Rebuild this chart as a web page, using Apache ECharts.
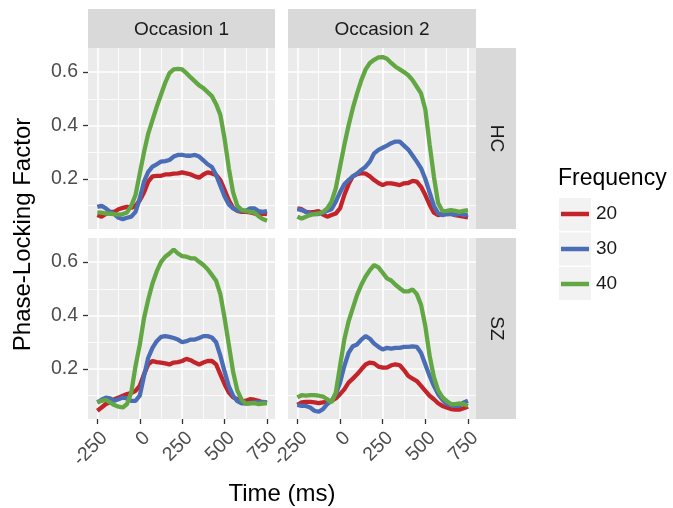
<!DOCTYPE html>
<html><head><meta charset="utf-8">
<script src="https://cdn.jsdelivr.net/npm/echarts@6/dist/echarts.min.js"></script>
<style>html,body{margin:0;padding:0;background:#fff}#c{width:673px;height:508px}</style>
</head><body><div id="c"></div>
<script>
// ---- data ----
const time = [-250,-225,-200,-175,-150,-125,-100,-75,-50,-25,0,25,50,75,100,125,150,175,200,225,250,275,300,325,350,375,400,425,450,475,500,525,550,575,600,625,650,675,700,725,750];
const occasions = ['Occasion 1','Occasion 2'];
const groups = ['HC','SZ'];
const frequencies = ['20','30','40'];
const xTicks = [-250,0,250,500,750];
const xMinorTicks = [-125,125,375,625];
const yTicks = [0.2,0.4,0.6];
const yMinorTicks = [0.1,0.3,0.5];

const HC1_20 = [0.065,0.059,0.069,0.077,0.077,0.087,0.092,0.096,0.092,0.1,0.12,0.15,0.19,0.21,0.212,0.212,0.217,0.217,0.22,0.221,0.225,0.221,0.217,0.21,0.205,0.217,0.225,0.221,0.215,0.196,0.159,0.12,0.092,0.081,0.077,0.077,0.075,0.071,0.069,0.071,0.069];
const HC1_30 = [0.096,0.1,0.09,0.077,0.069,0.055,0.05,0.055,0.059,0.077,0.127,0.19,0.227,0.246,0.255,0.265,0.267,0.271,0.284,0.29,0.29,0.287,0.287,0.29,0.284,0.27,0.255,0.245,0.215,0.175,0.135,0.105,0.09,0.082,0.081,0.081,0.09,0.09,0.08,0.077,0.08];
const HC1_40 = [0.075,0.074,0.071,0.07,0.069,0.067,0.069,0.075,0.10,0.14,0.22,0.30,0.37,0.42,0.47,0.515,0.56,0.596,0.61,0.612,0.61,0.596,0.58,0.565,0.55,0.54,0.525,0.51,0.48,0.44,0.35,0.24,0.15,0.1,0.085,0.081,0.077,0.074,0.061,0.05,0.044];

const HC2_20 = [0.09,0.087,0.077,0.075,0.077,0.08,0.067,0.059,0.065,0.071,0.09,0.14,0.18,0.21,0.218,0.222,0.22,0.21,0.196,0.185,0.177,0.184,0.184,0.181,0.177,0.184,0.185,0.193,0.19,0.171,0.14,0.104,0.074,0.065,0.069,0.069,0.069,0.065,0.062,0.059,0.056];
const HC2_30 = [0.087,0.084,0.077,0.071,0.069,0.069,0.075,0.081,0.087,0.115,0.15,0.18,0.196,0.21,0.22,0.234,0.246,0.265,0.296,0.309,0.317,0.325,0.334,0.34,0.34,0.325,0.31,0.288,0.265,0.24,0.2,0.15,0.1,0.072,0.065,0.069,0.071,0.065,0.071,0.065,0.067];
const HC2_40 = [0.059,0.052,0.059,0.065,0.069,0.071,0.077,0.09,0.115,0.165,0.246,0.327,0.40,0.465,0.52,0.57,0.61,0.634,0.646,0.655,0.656,0.65,0.634,0.62,0.61,0.60,0.588,0.57,0.545,0.52,0.46,0.33,0.21,0.11,0.08,0.081,0.084,0.081,0.077,0.081,0.084];

const SZ1_20 = [0.044,0.056,0.069,0.075,0.087,0.093,0.1,0.106,0.11,0.118,0.137,0.18,0.217,0.23,0.226,0.224,0.221,0.217,0.224,0.226,0.23,0.238,0.233,0.224,0.217,0.224,0.23,0.23,0.217,0.18,0.143,0.112,0.094,0.087,0.081,0.081,0.087,0.085,0.081,0.075,0.072];
const SZ1_30 = [0.075,0.085,0.093,0.09,0.081,0.087,0.093,0.09,0.081,0.081,0.1,0.174,0.242,0.279,0.304,0.32,0.323,0.32,0.316,0.31,0.30,0.304,0.31,0.31,0.316,0.323,0.323,0.318,0.30,0.25,0.19,0.135,0.1,0.08,0.072,0.072,0.072,0.075,0.075,0.077,0.075];
const SZ1_40 = [0.075,0.081,0.085,0.075,0.065,0.059,0.056,0.069,0.112,0.211,0.29,0.39,0.46,0.52,0.565,0.6,0.62,0.632,0.647,0.632,0.622,0.62,0.614,0.614,0.601,0.589,0.573,0.552,0.53,0.48,0.39,0.29,0.19,0.12,0.085,0.07,0.072,0.072,0.069,0.071,0.072];

const SZ2_20 = [0.066,0.075,0.077,0.077,0.075,0.072,0.075,0.077,0.081,0.09,0.106,0.124,0.149,0.164,0.18,0.199,0.217,0.224,0.221,0.209,0.205,0.205,0.214,0.217,0.214,0.196,0.174,0.164,0.155,0.137,0.118,0.1,0.087,0.072,0.062,0.056,0.05,0.048,0.048,0.053,0.06];
const SZ2_30 = [0.066,0.062,0.062,0.056,0.044,0.04,0.05,0.069,0.081,0.106,0.149,0.211,0.26,0.285,0.292,0.31,0.323,0.313,0.295,0.283,0.273,0.279,0.276,0.279,0.279,0.283,0.283,0.285,0.283,0.26,0.217,0.174,0.137,0.106,0.085,0.069,0.065,0.062,0.062,0.075,0.081];
const SZ2_40 = [0.094,0.102,0.1,0.102,0.102,0.1,0.097,0.087,0.075,0.112,0.211,0.31,0.378,0.428,0.477,0.515,0.546,0.57,0.589,0.58,0.56,0.539,0.531,0.515,0.502,0.49,0.49,0.498,0.48,0.44,0.36,0.25,0.17,0.12,0.095,0.08,0.069,0.069,0.071,0.069,0.062];

// ---- layout / style ----
const FONT = '"Liberation Sans", Arial, Helvetica, sans-serif';
const COLORS = ['#C3242A', '#4A6DB5', '#62A744'];
const X_MIN = -305, X_MAX = 797, Y_MIN = 0.013, Y_MAX = 0.69;
const panels = [
  {left:88,  top:48,  width:187, height:181, series:[HC1_20,HC1_30,HC1_40], bottom:false, leftCol:true},
  {left:288, top:48,  width:188, height:181, series:[HC2_20,HC2_30,HC2_40], bottom:false, leftCol:false},
  {left:88,  top:238, width:187, height:181, series:[SZ1_20,SZ1_30,SZ1_40], bottom:true,  leftCol:true},
  {left:288, top:238, width:188, height:181, series:[SZ2_20,SZ2_30,SZ2_40], bottom:true,  leftCol:false}
];

const grid = [], xAxis = [], yAxis = [], series = [];
panels.forEach((p, i) => {
  grid.push({left:p.left, top:p.top, width:p.width, height:p.height, show:true,
             backgroundColor:'#EBEBEB', borderWidth:0, containLabel:false});
  xAxis.push({type:'value', gridIndex:i, min:X_MIN, max:X_MAX, position:'bottom',
    axisLine:{show:false, onZero:false},
    axisTick:{show:p.bottom, length:5, lineStyle:{color:'#333333', width:1.3}, customValues:xTicks},
    axisLabel:{show:p.bottom, customValues:xTicks, rotate:45, margin:9, align:'right', verticalAlign:'top',
               color:'#4D4D4D', fontSize:19.5, fontFamily:FONT},
    splitLine:{show:true, lineStyle:{color:'#FFFFFF', width:1.6}}});
  xAxis.push({type:'value', gridIndex:i, min:X_MIN, max:X_MAX, position:'top',
    axisLine:{show:false, onZero:false}, axisTick:{show:false, customValues:xMinorTicks}, axisLabel:{show:false},
    splitLine:{show:true, lineStyle:{color:'#FFFFFF', width:0.8}}});
  yAxis.push({type:'value', gridIndex:i, min:Y_MIN, max:Y_MAX, position:'left',
    axisLine:{show:false, onZero:false},
    axisTick:{show:p.leftCol, length:5, lineStyle:{color:'#333333', width:1.3}, customValues:yTicks},
    axisLabel:{show:p.leftCol, customValues:yTicks, margin:10, color:'#4D4D4D', fontSize:19.5, fontFamily:FONT,
               formatter:v => v.toFixed(1)},
    splitLine:{show:true, lineStyle:{color:'#FFFFFF', width:1.6}}});
  yAxis.push({type:'value', gridIndex:i, min:Y_MIN, max:Y_MAX, position:'right',
    axisLine:{show:false, onZero:false}, axisTick:{show:false, customValues:yMinorTicks}, axisLabel:{show:false},
    splitLine:{show:true, lineStyle:{color:'#FFFFFF', width:0.8}}});
  p.series.forEach((vals, k) => {
    series.push({type:'line', name:frequencies[k], xAxisIndex:2*i, yAxisIndex:2*i,
      data:time.map((t, j) => [t, vals[j]]), showSymbol:false, symbol:'none',
      color:COLORS[k], lineStyle:{width:4.3, color:COLORS[k]}, z:2+k, silent:true});
  });
});

const graphics = [];
[[88,187],[288,188]].forEach((s, i) => {
  graphics.push({type:'rect', shape:{x:s[0], y:9, width:s[1], height:39}, style:{fill:'#D9D9D9'}, silent:true});
  graphics.push({type:'text', x:s[0]+s[1]/2, y:30, silent:true,
    style:{text:occasions[i], fill:'#1A1A1A', fontSize:19, fontFamily:FONT, align:'center', verticalAlign:'middle'}});
});
[[48,181],[238,181]].forEach((s, i) => {
  graphics.push({type:'rect', shape:{x:476, y:s[0], width:40, height:s[1]}, style:{fill:'#D9D9D9'}, silent:true});
  graphics.push({type:'text', x:496, y:s[0]+s[1]/2, rotation:-Math.PI/2, silent:true,
    style:{text:groups[i], fill:'#1A1A1A', fontSize:19, fontFamily:FONT, align:'center', verticalAlign:'middle'}});
});
graphics.push({type:'text', x:282, y:494, silent:true,
  style:{text:'Time (ms)', fill:'#000', fontSize:24, fontFamily:FONT, align:'center', verticalAlign:'middle'}});
graphics.push({type:'text', x:23, y:234.5, rotation:Math.PI/2, silent:true,
  style:{text:'Phase-Locking Factor', fill:'#000', fontSize:24, fontFamily:FONT, align:'center', verticalAlign:'middle'}});
graphics.push({type:'text', x:558, y:179, silent:true,
  style:{text:'Frequency', fill:'#000', fontSize:23, fontFamily:FONT, align:'left', verticalAlign:'middle'}});
[198, 232.5, 267].forEach(y => {
  graphics.push({type:'rect', shape:{x:559, y:y, width:32, height:33}, style:{fill:'#F2F2F2'}, silent:true, z:-1});
});

const chart = echarts.init(document.getElementById('c'), null, {renderer:'canvas'});
chart.setOption({
  animation:false,
  backgroundColor:'#FFFFFF',
  grid, xAxis, yAxis, series,
  legend:{orient:'vertical', left:561, top:204, padding:0, itemWidth:28, itemHeight:4.5, itemGap:15, icon:'rect',
    data:frequencies, selectedMode:false,
    textStyle:{fontSize:19, color:'#1A1A1A', fontFamily:FONT, lineHeight:20, padding:[0,0,0,2]}},
  graphic:graphics
});
</script></body></html>
